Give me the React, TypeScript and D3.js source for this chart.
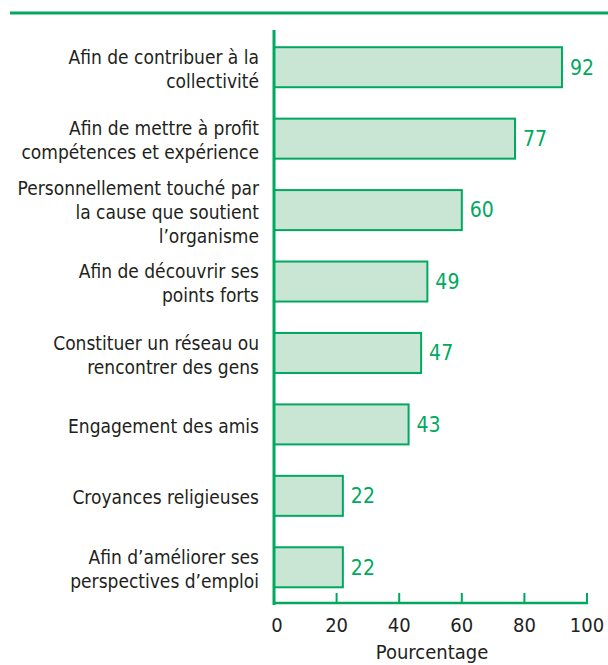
import React from "react";
import * as d3 from "d3";

const categories: string[][] = [
  ["Afin de contribuer à la", "collectivité"],
  ["Afin de mettre à profit", "compétences et expérience"],
  ["Personnellement touché par", "la cause que soutient", "l’organisme"],
  ["Afin de découvrir ses", "points forts"],
  ["Constituer un réseau ou", "rencontrer des gens"],
  ["Engagement des amis"],
  ["Croyances religieuses"],
  ["Afin d’améliorer ses", "perspectives d’emploi"],
];
const values: number[] = [92, 77, 60, 49, 47, 43, 22, 22];
const tickValues: number[] = [0, 20, 40, 60, 80, 100];
const axisTitle = "Pourcentage";

const GREEN = "#00A860";
const FILL = "#C8E6D3";
const TEXT = "#231F20";
const FONT = "'DejaVu Sans Condensed', 'Liberation Sans Narrow', sans-serif";

export default function App() {
  const W = 608, H = 665;
  const x = d3.scaleLinear().domain([0, 100]).range([274, 587]);
  const y = d3
    .scaleBand<number>()
    .domain(d3.range(values.length))
    .range([31.5, 603])
    .paddingInner(0.44)
    .paddingOuter(0.22);
  const lineH = 24;
  return (
    <svg
      width={W}
      height={H}
      style={{ position: "absolute", left: 0, top: 0 }}
      fontFamily={FONT}
    >
      <line x1={10} x2={608} y1={13} y2={13} stroke={GREEN} strokeWidth={3} />
      {values.map((v, i) => {
        const y0 = y(i)!;
        const bh = y.bandwidth();
        const cy = y0 + bh / 2;
        const lines = categories[i];
        const firstY = cy + 2 - ((lines.length - 1) * lineH) / 2;
        return (
          <g key={i}>
            <rect
              x={x(0)}
              y={y0}
              width={x(v) - x(0)}
              height={bh}
              fill={FILL}
              stroke={GREEN}
              strokeWidth={2}
            />
            <text
              x={x(v) + 8}
              y={cy}
              dy="0.35em"
              fill={GREEN}
              fontSize={21}
            >
              {v}
            </text>
            <text textAnchor="end" fill={TEXT} fontSize={19}>
              {lines.map((l, j) => (
                <tspan key={j} x={259} y={firstY + j * lineH} dy="0.35em">
                  {l}
                </tspan>
              ))}
            </text>
          </g>
        );
      })}
      <line x1={274} x2={274} y1={30} y2={605} stroke={GREEN} strokeWidth={3} />
      <line x1={274} x2={588} y1={603} y2={603} stroke={GREEN} strokeWidth={2.5} />
      {tickValues.map((t) => (
        <g key={t}>
          <line x1={x(t)} x2={x(t)} y1={593} y2={603} stroke={GREEN} strokeWidth={2} />
          <text
            x={x(t) + (t === 0 ? 3 : 0)}
            y={625}
            dy="0.35em"
            textAnchor="middle"
            fill={TEXT}
            fontSize={20}
          >
            {t}
          </text>
        </g>
      ))}
      <text x={432} y={652} dy="0.35em" textAnchor="middle" fill={TEXT} fontSize={20}>
        {axisTitle}
      </text>
    </svg>
  );
}
